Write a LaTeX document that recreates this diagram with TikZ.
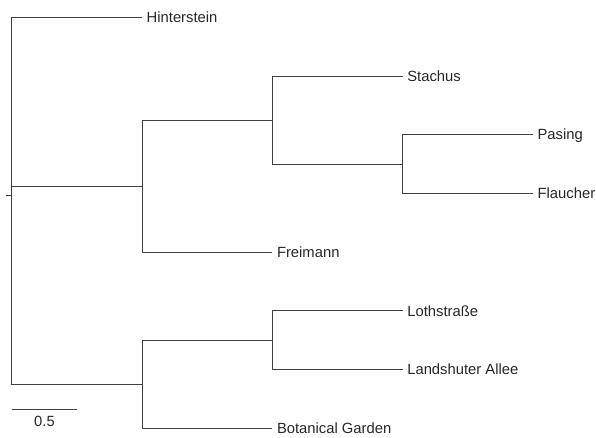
\documentclass[tikz,border=0pt]{standalone}
\usepackage{fontspec}
\setmainfont{Liberation Sans}
\tikzset{
  branch/.style={draw=black!75,line width=0.9pt},
  leaf/.style={anchor=base west,inner sep=0pt,xshift=4.5pt,yshift=-5.2pt,text=black!85,font=\fontsize{14.8}{17}\selectfont}
}
\begin{document}
\begin{tikzpicture}[x=130.3pt,y=-58.71pt]
			\useasboundingbox (-11.7pt,17.3pt) rectangle (584.3pt,-419.7pt);
			\def\r{3.04} % root height
			% inner nodes
			\coordinate (root) at (0,\r);
			\coordinate (A) at (1,2.875);
			\coordinate (B) at (2,1.75);
			\coordinate (C) at (3,2.5);
			\coordinate (D) at (1,6.25);
			\coordinate (E) at (2,5.5);
			% leaves
			\foreach \n/\l/\k/\t in {hin/1/0/Hinterstein,sta/3/1/Stachus,pas/4/2/Pasing,fla/4/3/Flaucher,fre/2/4/Freimann,lot/3/5/Lothstraße,lan/3/6/Landshuter Allee,bot/2/7/Botanical Garden} {
				\coordinate (\n) at (\l,\k);
				\node[leaf] (\n lab) at (\n) {\t};
			}
			\foreach \p/\c in {root/hin,root/A,A/B,B/sta,B/C,C/pas,C/fla,A/fre,root/D,D/E,E/lot,E/lan,D/bot}
				\draw[branch] (\p) |- (\c);
			\draw[branch] (root) -- ++(-6pt,0);
			% scale bar
			\coordinate (s0) at (0,6.672);
			\coordinate (s1) at (0.5,6.672);
			\draw[branch] (s0) -- (s1);
			\node[text=black!85,font=\fontsize{14.8}{17}\selectfont,inner sep=0pt] (slab) at (0.252,6.876) {0.5};
\end{tikzpicture}
\end{document}
